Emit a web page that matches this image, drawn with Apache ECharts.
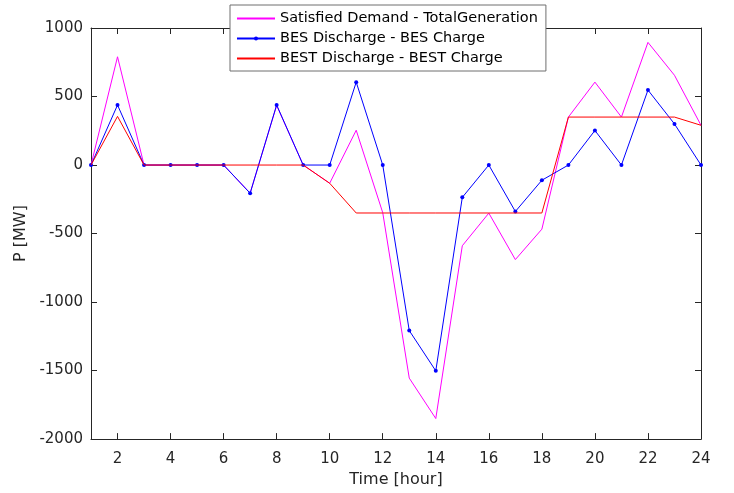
<!DOCTYPE html>
<html><head><meta charset="utf-8">
<script src="https://cdn.jsdelivr.net/npm/echarts@6/dist/echarts.min.js"></script>
<style>html,body{margin:0;padding:0;background:#fff}#c{width:734px;height:493px}</style>
</head><body><div id="c"></div>
<script>
const hours = [1,2,3,4,5,6,7,8,9,10,11,12,13,14,15,16,17,18,19,20,21,22,23,24];
const satisfiedMinusGen = [0,790,0,0,0,0,-205,435,0,-133,254,-348,-1555,-1850,-589,-351,-690,-468,350,605,350,895,655,290];
const besNet = [0,438,0,0,0,0,-206,438,0,0,605,0,-1208,-1502,-236,0,-339,-111,0,252,0,547,300,0];
const bestNet = [0,355,0,0,0,0,0,0,0,-133,-350,-350,-350,-350,-350,-350,-350,-350,350,350,350,350,350,290];
const xTicks = [2,4,6,8,10,12,14,16,18,20,22,24];
const seriesNames = ['Satisfied Demand - TotalGeneration','BES Discharge - BES Charge','BEST Discharge - BEST Charge'];

const pair = arr => hours.map((h,i)=>[h,arr[i]]);
const font = 'DejaVu Sans, sans-serif';
const axisCol = '#262626';
const txtCol = '#262626';
const noDot = {color:'rgba(0,0,0,0)', borderWidth:0};
const chart = echarts.init(document.getElementById('c'));
chart.setOption({
  animation:false,
  backgroundColor:'#fff',
  grid:{left:91,right:33,top:28,bottom:52,containLabel:false},
  legend:{
    orient:'vertical', left:230, top:5,
    backgroundColor:'#fff', borderColor:'#6e6e6e', borderWidth:1,
    padding:[6,8,5,6], itemGap:5, itemWidth:38, itemHeight:5,
    textStyle:{fontFamily:font,fontSize:14.5,color:'#000'},
    data:[
      {name:seriesNames[0], itemStyle:noDot},
      {name:seriesNames[1]},
      {name:seriesNames[2], itemStyle:noDot}
    ]
  },
  xAxis:[{
    type:'value', min:1, max:24, position:'bottom',
    name:'Time [hour]', nameLocation:'middle', nameGap:31,
    nameTextStyle:{fontFamily:font,fontSize:16,color:txtCol},
    axisLine:{show:true,onZero:false,lineStyle:{color:axisCol,width:1}},
    axisTick:{show:true,inside:true,length:6,customValues:xTicks,lineStyle:{color:axisCol}},
    axisLabel:{customValues:xTicks,fontFamily:font,fontSize:15,color:txtCol,margin:13},
    splitLine:{show:false}
  },{
    type:'value', min:1, max:24, position:'top',
    axisLine:{show:true,onZero:false,lineStyle:{color:axisCol,width:1}},
    axisTick:{show:true,inside:true,length:6,customValues:xTicks,lineStyle:{color:axisCol}},
    axisLabel:{show:false}, splitLine:{show:false}
  }],
  yAxis:[{
    type:'value', min:-2000, max:1000, interval:500, position:'left',
    name:'P [MW]', nameLocation:'middle', nameGap:62,
    nameTextStyle:{fontFamily:font,fontSize:16,color:txtCol},
    axisLine:{show:true,onZero:false,lineStyle:{color:axisCol,width:1}},
    axisTick:{show:true,inside:true,length:6,lineStyle:{color:axisCol}},
    axisLabel:{fontFamily:font,fontSize:15,color:txtCol,margin:8,formatter:v=>String(v)},
    splitLine:{show:false}
  },{
    type:'value', min:-2000, max:1000, interval:500, position:'right',
    axisLine:{show:true,onZero:false,lineStyle:{color:axisCol,width:1}},
    axisTick:{show:true,inside:true,length:6,lineStyle:{color:axisCol}},
    axisLabel:{show:false}, splitLine:{show:false}
  }],
  series:[
    {name:seriesNames[0],type:'line',data:pair(satisfiedMinusGen),showSymbol:false,symbol:'none',
     lineStyle:{color:'#ff00ff',width:1},itemStyle:{color:'#ff00ff'},z:2},
    {name:seriesNames[1],type:'line',data:pair(besNet),symbol:'circle',symbolSize:4,showSymbol:true,
     lineStyle:{color:'#0000ff',width:1},itemStyle:{color:'#0000ff'},z:3},
    {name:seriesNames[2],type:'line',data:pair(bestNet),showSymbol:false,symbol:'none',
     lineStyle:{color:'#ff0000',width:1},itemStyle:{color:'#ff0000'},z:4}
  ]
});
</script></body></html>
